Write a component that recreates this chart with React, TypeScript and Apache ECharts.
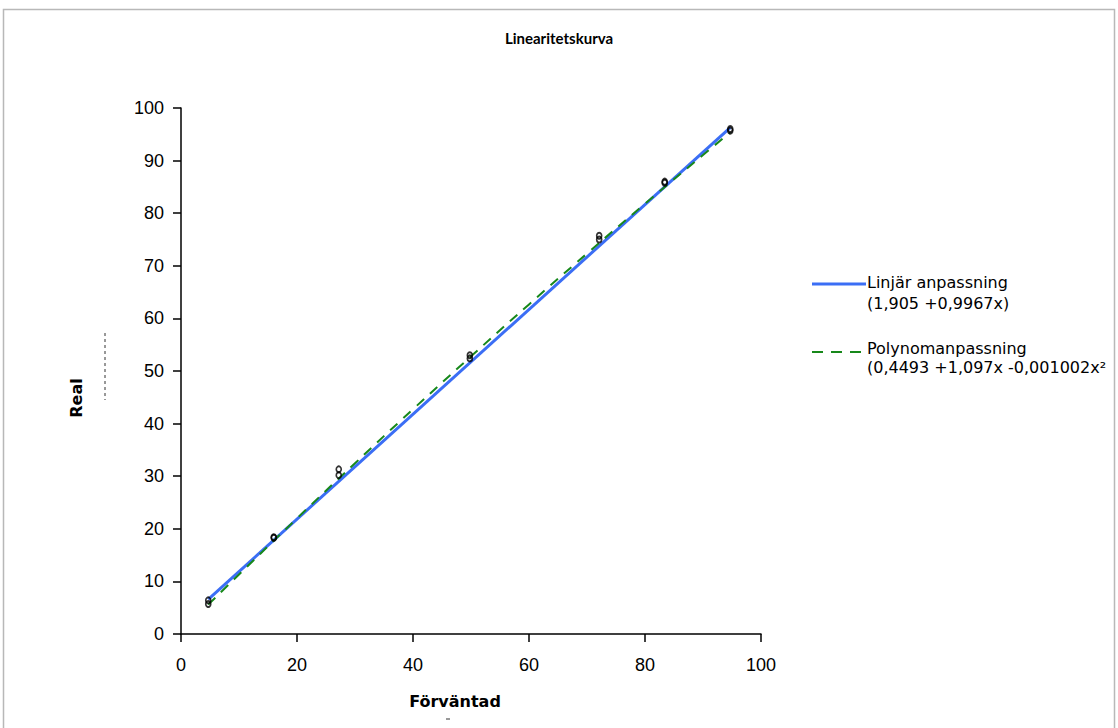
import React, { useEffect, useRef } from "react";
import * as echarts from "echarts";

const xTicks = [0, 20, 40, 60, 80, 100];
const yTicks = [0, 10, 20, 30, 40, 50, 60, 70, 80, 90, 100];

const expected = [4.7, 4.7, 16.0, 16.0, 27.2, 27.2, 49.8, 49.8, 72.1, 72.1, 83.4, 83.4, 94.7, 94.7];
const real = [5.7, 6.4, 18.3, 18.4, 30.2, 31.3, 52.4, 53.0, 75.0, 75.7, 85.8, 86.0, 95.7, 96.0];

const linearX = [4.7, 94.7];
const linearY = [6.59, 96.29];

const polyX = [4.7, 10, 20, 30, 40, 50, 60, 70, 80, 90, 94.7];
const polyY = [5.58, 11.32, 21.99, 32.46, 42.73, 52.79, 62.66, 72.33, 81.8, 91.06, 95.35];

const titleText = "Linearitetskurva";
const xName = "Förväntad";
const yName = "Real";
const linName = "Linjär anpassning";
const linFormula = "(1,905 +0,9967x)";
const polyName = "Polynomanpassning";
const polyFormula = "(0,4493 +1,097x -0,001002x²";

const BLUE = "#3B6EF5";
const GREEN = "#17881A";

export default function App() {
  const ref = useRef<HTMLDivElement>(null);
  useEffect(() => {
    if (!ref.current) return;
    const chart = echarts.init(ref.current, null, { renderer: "svg" });
    const legendFont = "'DejaVu Sans', sans-serif";
    const tickFont = "'Liberation Sans', Arial, sans-serif";
    const legendText = (text: string, x: number, y: number) => ({
      type: "text",
      x,
      y,
      style: {
        text,
        fontFamily: legendFont,
        fontSize: 16,
        fill: "#000",
        align: "left",
        verticalAlign: "middle",
      },
    });
    chart.setOption({
      animation: false,
      backgroundColor: "#fff",
      title: {
        text: titleText,
        left: "center",
        top: 25,
        textStyle: { fontFamily: "Lato, sans-serif", fontWeight: "bold", fontSize: 15, color: "#000" },
      },
      grid: { left: 181, right: 357, top: 108, bottom: 94 },
      xAxis: {
        type: "value",
        min: 0,
        max: 100,
        interval: 20,
        splitLine: { show: false },
        axisLine: { show: true, onZero: false, lineStyle: { color: "#000", width: 1.5 } },
        axisTick: { show: true, inside: false, length: 8, lineStyle: { color: "#000", width: 1.5 } },
        axisLabel: {
          margin: 22,
          fontSize: 18,
          color: "#000",
          fontFamily: tickFont,
          formatter: (v: number) => (xTicks.includes(v) ? String(v) : ""),
        },
      },
      yAxis: {
        type: "value",
        min: 0,
        max: 100,
        interval: 10,
        splitLine: { show: false },
        axisLine: { show: true, onZero: false, lineStyle: { color: "#000", width: 1.5 } },
        axisTick: { show: true, inside: false, length: 8, lineStyle: { color: "#000", width: 1.5 } },
        axisLabel: {
          margin: 17,
          fontSize: 18,
          color: "#000",
          fontFamily: tickFont,
          formatter: (v: number) => (yTicks.includes(v) ? String(v) : ""),
        },
      },
      series: [
        {
          name: linName,
          type: "line",
          data: linearX.map((x, i) => [x, linearY[i]]),
          symbol: "none",
          lineStyle: { color: BLUE, width: 3 },
          z: 2,
        },
        {
          name: polyName,
          type: "line",
          smooth: true,
          data: polyX.map((x, i) => [x, polyY[i]]),
          symbol: "none",
          lineStyle: { color: GREEN, width: 2, type: [10, 8] },
          z: 3,
        },
        {
          name: "Data",
          type: "scatter",
          data: expected.map((x, i) => [x, real[i]]),
          symbol: "circle",
          symbolSize: [5, 6],
          itemStyle: { color: "rgba(255,255,255,0)", borderColor: "#000", borderWidth: 1.8 },
          z: 4,
        },
      ],
      graphic: [
        {
          type: "rect",
          shape: { x: 3.5, y: 9.5, width: 1111, height: 740 },
          style: { fill: "none", stroke: "#b8b8b8", lineWidth: 1.5 },
          silent: true,
        },
        {
          type: "text",
          x: 76,
          y: 398,
          rotation: Math.PI / 2,
          style: {
            text: yName,
            fontFamily: legendFont,
            fontWeight: "bold",
            fontSize: 16,
            fill: "#000",
            align: "center",
            verticalAlign: "middle",
          },
        },
        {
          type: "text",
          x: 455,
          y: 701,
          style: {
            text: xName,
            fontFamily: legendFont,
            fontWeight: "bold",
            fontSize: 16,
            fill: "#000",
            align: "center",
            verticalAlign: "middle",
          },
        },
        {
          type: "line",
          shape: { x1: 105, y1: 333, x2: 105, y2: 400 },
          style: { stroke: "#333", lineWidth: 1, lineDash: [3, 3] },
        },
        {
          type: "line",
          shape: { x1: 446, y1: 719, x2: 450, y2: 719 },
          style: { stroke: "#333", lineWidth: 1 },
        },
        {
          type: "line",
          shape: { x1: 812, y1: 284, x2: 866, y2: 284 },
          style: { stroke: BLUE, lineWidth: 3 },
        },
        legendText(linName, 867, 282),
        legendText(linFormula, 867, 303),
        {
          type: "line",
          shape: { x1: 812, y1: 352, x2: 867, y2: 352 },
          style: { stroke: GREEN, lineWidth: 2, lineDash: [11, 8] },
        },
        legendText(polyName, 867, 348),
        legendText(polyFormula, 867, 367),
      ],
    });
    return () => chart.dispose();
  }, []);
  return (
    <div
      ref={ref}
      style={{ position: "fixed", left: 0, top: 0, width: 1118, height: 728 }}
    />
  );
}
